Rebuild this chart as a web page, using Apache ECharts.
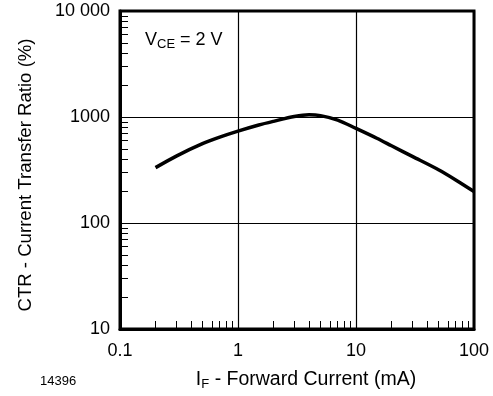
<!DOCTYPE html>
<html>
<head>
<meta charset="utf-8">
<script src="https://cdn.jsdelivr.net/npm/echarts@6/dist/echarts.min.js"></script>
<style>
  html, body { margin: 0; padding: 0; background: #fff; }
  #chart { width: 493px; height: 396px; }
</style>
</head>
<body>
<div id="chart"></div>
<script>
// forward current IF (mA) and CTR (%)
const ifValues = [0.2, 0.3, 0.5, 0.7, 1, 1.5, 2, 3, 4, 5, 7, 10, 15, 20, 30, 50, 70, 100]
const ctrValues = [333, 428, 560, 645, 735, 840, 910, 1010, 1050, 1030, 935, 780, 630, 535, 425, 318, 255, 198]

const xMinorTicks = [0.2, 0.3, 0.4, 0.5, 0.6, 0.7, 0.8, 0.9, 2, 3, 4, 5, 6, 7, 8, 9, 20, 30, 40, 50, 60, 70, 80, 90]
const yMinorTicks = [20, 30, 40, 50, 60, 70, 80, 90, 200, 300, 400, 500, 600, 700, 800, 900, 2000, 3000, 4000, 5000, 6000, 7000, 8000, 9000]
const yTickLabels = { 10: '10', 100: '100', 1000: '1000', 10000: '10 000' }

const font = 'Liberation Sans, Arial, Helvetica, sans-serif'
const chart = echarts.init(document.getElementById('chart'))

const minorAxis = (ticks) => ({
    type: 'log',
    logBase: 10,
    axisLine: { show: false },
    axisLabel: { show: false },
    splitLine: { show: false },
    axisTick: { show: true, inside: true, length: 8, customValues: ticks, lineStyle: { color: '#000', width: 1 } }
})

chart.setOption({
    animation: false,
    grid: { left: 120, right: 19, top: 11, bottom: 66, show: true, borderColor: '#000', borderWidth: 3, backgroundColor: 'transparent' },
    xAxis: [{
        type: 'log',
        logBase: 10,
        min: 0.1,
        max: 100,
        name: '{i|I}{s|F}{n| - Forward Current (mA)}',
        nameLocation: 'middle',
        nameGap: 40,
        nameTextStyle: {
            padding: [0, 0, 0, 18],
            rich: {
                i: { fontFamily: font, fontSize: 19.5, color: '#000' },
                s: { fontFamily: font, fontSize: 13, color: '#000', padding: [9, 0, 0, 0] },
                n: { fontFamily: font, fontSize: 19.5, color: '#000' }
            }
        },
        axisLine: { show: true, lineStyle: { color: '#000', width: 3 } },
        axisTick: { show: false },
        axisLabel: { color: '#000', fontFamily: font, fontSize: 18, margin: 13, formatter: (v) => String(v) },
        splitLine: { show: true, lineStyle: { color: '#000', width: 1.2 } }
    }, Object.assign(minorAxis(xMinorTicks), { min: 0.1, max: 100, position: 'bottom' })],
    yAxis: [{
        type: 'log',
        logBase: 10,
        min: 10,
        max: 10000,
        name: 'CTR - Current Transfer Ratio (%)',
        nameLocation: 'middle',
        nameGap: 85,
        nameTextStyle: { color: '#000', fontFamily: font, fontSize: 18.6, padding: [0, 10, 0, 0] },
        axisLine: { show: true, lineStyle: { color: '#000', width: 3 } },
        axisTick: { show: false },
        axisLabel: { color: '#000', fontFamily: font, fontSize: 18, margin: 10, formatter: (v) => yTickLabels[Math.round(v)] || '' },
        splitLine: { show: true, lineStyle: { color: '#000', width: 1.2 } }
    }, Object.assign(minorAxis(yMinorTicks), { min: 10, max: 10000, position: 'left' })],
    graphic: [
        {
            type: 'text',
            left: 145,
            top: 31,
            style: {
                text: '{v|V}{s|CE}{v| = 2 V}',
                rich: {
                    v: { fontFamily: font, fontSize: 18, fill: '#000' },
                    s: { fontFamily: font, fontSize: 13, fill: '#000', padding: [9, 0, 0, 0] }
                }
            }
        },
        {
            type: 'text',
            left: 40,
            top: 375,
            style: { text: '14396', fontFamily: font, fontSize: 13, fill: '#000' }
        }
    ],
    series: [{
        type: 'line',
        xAxisIndex: 0,
        yAxisIndex: 0,
        data: ifValues.map((x, i) => [x, ctrValues[i]]),
        smooth: 0.3,
        showSymbol: false,
        lineStyle: { color: '#000', width: 3.5 }
    }]
})
</script>
</body>
</html>
